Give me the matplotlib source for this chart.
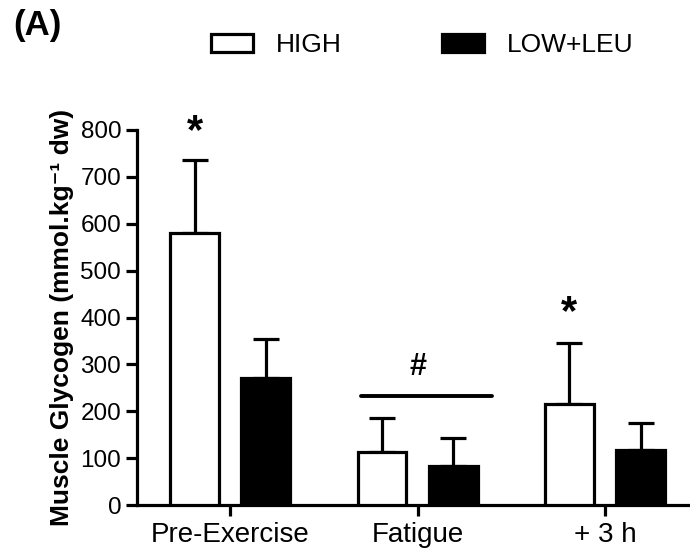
import matplotlib
matplotlib.use("Agg")
import matplotlib.pyplot as plt
from matplotlib.patches import Patch
import numpy as np

plt.rcParams['font.family'] = ['Liberation Sans', 'DejaVu Sans']

categories = ["Pre-Exercise", "Fatigue", "+ 3 h"]
high_mean = [581, 114, 215]
high_sd = [156, 71, 131]
low_mean = [272, 84, 117]
low_sd = [82, 58, 58]
yticks = [0, 100, 200, 300, 400, 500, 600, 700, 800]

fig = plt.figure(figsize=(6.9, 5.54), dpi=100)
ax = fig.add_axes([136.5/690, 1-505/554, 1-136.5/690, (505-130)/554])

x = np.arange(len(categories))
off = 0.19
w = 0.26
lw = 2.3
ax.bar(x - off, high_mean, w, color='white', edgecolor='black', linewidth=lw, zorder=3)
ax.bar(x + off, low_mean, w, color='black', edgecolor='black', linewidth=lw, zorder=3)
ax.errorbar(x - off, high_mean, yerr=[np.zeros(3), high_sd], fmt='none', ecolor='black',
            elinewidth=lw, capsize=9.5, capthick=lw, zorder=2)
ax.errorbar(x + off, low_mean, yerr=[np.zeros(3), low_sd], fmt='none', ecolor='black',
            elinewidth=lw, capsize=9.5, capthick=lw, zorder=2)

# significance marks
ax.text(x[0] - off, 795, '*', ha='center', va='center', fontsize=30, fontweight='bold', clip_on=False)
ax.text(x[2] - off, 410, '*', ha='center', va='center', fontsize=30, fontweight='bold')
ax.plot([x[1] - 0.30, x[1] + 0.395], [233, 233], color='black', lw=2.8, solid_capstyle='round')
ax.text(x[1], 295, '#', ha='center', va='center', fontsize=22, fontweight='bold')

ax.set_xlim(-0.5, 2.453)
ax.set_ylim(0, 800)
ax.set_yticks(yticks)
ax.set_xticks(x)
ax.set_xticklabels(categories, fontsize=20)
ax.tick_params(axis='y', labelsize=17.5, width=lw, length=8, pad=3)
ax.tick_params(axis='x', width=lw, length=8, pad=4)
for s in ['top', 'right']:
    ax.spines[s].set_visible(False)
for s in ['left', 'bottom']:
    ax.spines[s].set_linewidth(lw)

ax.set_ylabel('Muscle Glycogen (mmol.kg\u207b\u00b9 dw)', fontsize=19, fontweight='bold', labelpad=5)

handles = [Patch(facecolor='white', edgecolor='black', linewidth=lw, label='HIGH'),
           Patch(facecolor='black', edgecolor='black', linewidth=lw, label='LOW+LEU')]
fig.legend(handles=handles, loc='center left', bbox_to_anchor=(211/690, 1-45/554), ncol=2,
           frameon=False, fontsize=19, handlelength=1.6, handleheight=0.68, handletextpad=0.85,
           columnspacing=3.8, borderpad=0, borderaxespad=0)

fig.text(13/690, 1-9/554, '(A)', fontsize=25, fontweight='bold', ha='left', va='top')

fig.savefig('out.png', dpi=100)
